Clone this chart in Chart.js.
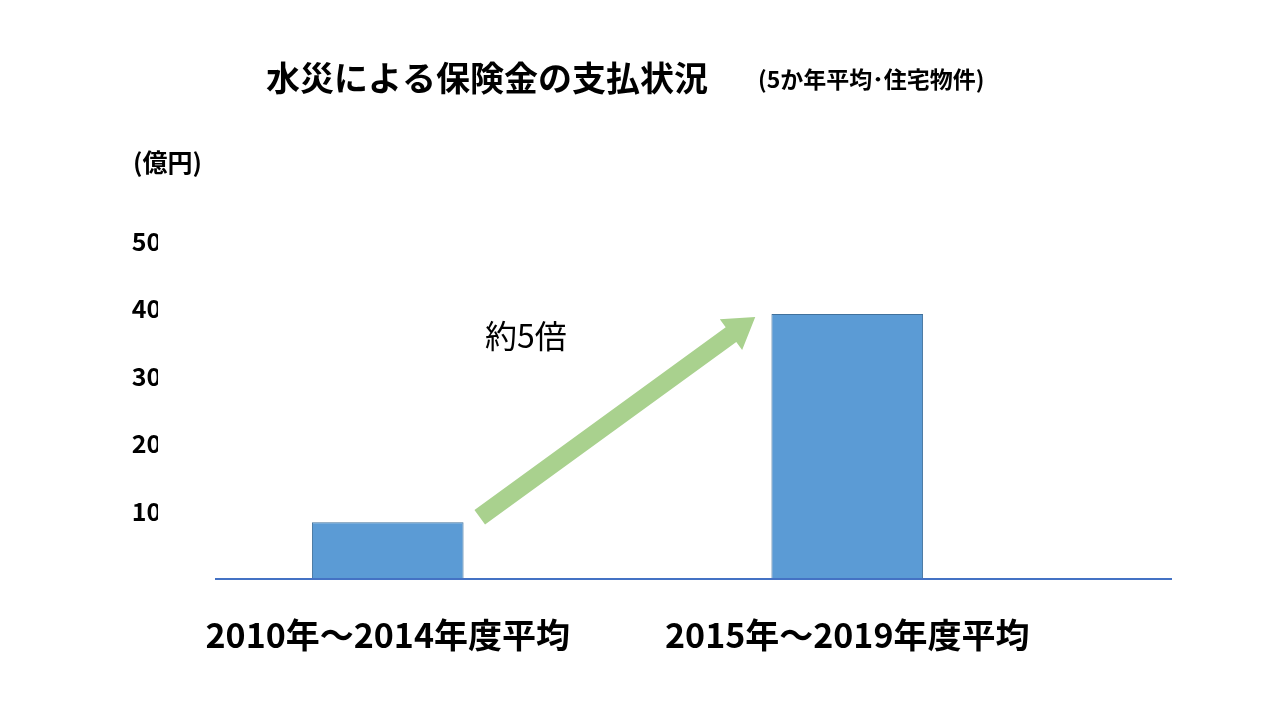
<!DOCTYPE html><html><head><meta charset="utf-8">
<script src="https://cdn.jsdelivr.net/npm/chart.js@4"></script>
<style>html,body{margin:0;background:#fff}#w{width:1280px;height:720px}</style></head><body>
<div id="w"><canvas id="c"></canvas></div>
<script>
const categories=["2010年～2014年度平均","2015年～2019年度平均"];
const values=[84,392];
const yTicks=[0,100,200,300,400,500];
const FONT='"Noto Sans CJK JP","Noto Sans",sans-serif';
const deco={id:'deco',afterDraw(ch){
 const c=ch.ctx,x=ch.scales.x,y=ch.scales.y;
 c.save();
 c.strokeStyle='#4472c4';c.lineWidth=2;
 const y0=y.getPixelForValue(0);
 c.beginPath();c.moveTo(ch.chartArea.left+57,y0);c.lineTo(ch.chartArea.right+95,y0);c.stroke();
 const x1=x.getPixelForValue(0)+92,y1=y.getPixelForValue(values[0])-5;
 const x2=x.getPixelForValue(1)-92,y2=y.getPixelForValue(values[1])+3;
 const ang=Math.atan2(y2-y1,x2-x1),L=Math.hypot(x2-x1,y2-y1);
 c.translate(x1,y1);c.rotate(ang);c.fillStyle='#a9d18e';
 c.beginPath();c.moveTo(0,-9);c.lineTo(L-30,-9);c.lineTo(L-30,-19);c.lineTo(L,0);c.lineTo(L-30,19);c.lineTo(L-30,9);c.lineTo(0,9);c.closePath();c.fill();
 c.setTransform(1,0,0,1,0,0);c.scale(ch.currentDevicePixelRatio,ch.currentDevicePixelRatio);
 c.fillStyle='#000';c.textBaseline='middle';c.textAlign='left';
 c.font='32px '+FONT;c.fillText('約5倍',485,336);
 c.font='bold 34px '+FONT;c.fillText('水災による保険金の支払状況',266,78);
 c.font='bold 23px '+FONT;c.fillText('(5か年平均･住宅物件)',758,79);
 c.font='bold 25px '+FONT;c.fillText('(億円)',133,162);
 c.restore();
}};
new Chart(document.getElementById('c'),{type:'bar',
 data:{labels:categories,datasets:[{data:values,backgroundColor:'#5b9bd5',borderColor:'#41719c',borderWidth:1,barPercentage:0.66,categoryPercentage:0.5}]},
 options:{responsive:true,maintainAspectRatio:false,animation:false,
  layout:{padding:{top:241,left:98,right:203,bottom:41}},
  plugins:{legend:{display:false},tooltip:{enabled:false}},
  scales:{
   x:{grid:{display:false},border:{display:false},afterFit(s){s.height=100},
      ticks:{color:'#000',padding:28,font:{family:FONT,size:34,weight:'bold'},maxRotation:0,autoSkip:false}},
   y:{min:0,max:500,afterBuildTicks(s){s.ticks=yTicks.map(v=>({value:v}))},
      grid:{display:false},border:{display:false},afterFit(s){s.width=60},
      ticks:{color:'#000',crossAlign:'near',padding:-26,font:{family:FONT,size:25,weight:'bold'}}}}},
 plugins:[deco]});
</script></body></html>
